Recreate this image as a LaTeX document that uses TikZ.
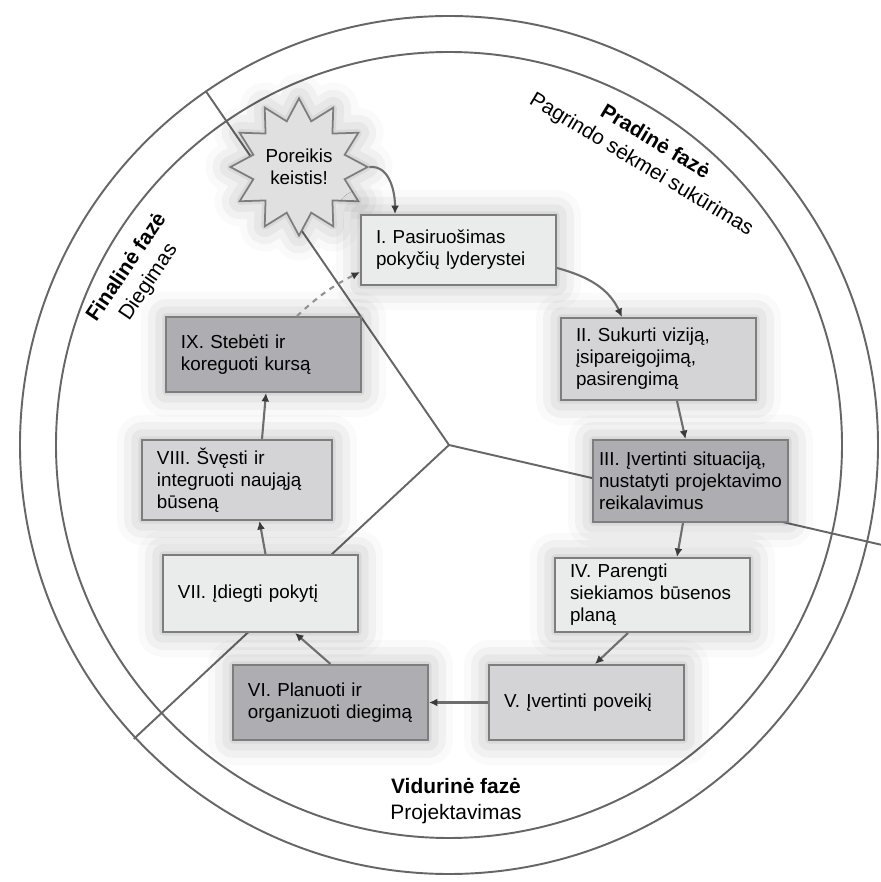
\documentclass[tikz,border=0pt]{standalone}
\usepackage{fontspec}
\setmainfont{Liberation Sans}
\usetikzlibrary{arrows.meta,shapes.geometric,shadows.blur}
\definecolor{ringgray}{HTML}{666666}
\definecolor{boxline}{HTML}{7D7D7D}
\definecolor{stagelight}{HTML}{EAEBEB}
\definecolor{stagemid}{HTML}{D4D4D7}
\definecolor{stagedark}{HTML}{ADADB2}
\definecolor{flowgray}{HTML}{6E6E6E}
\definecolor{tipgray}{HTML}{3A3A3A}

\begin{document}
\begin{tikzpicture}[>=Latex,
 stage/.style={draw=boxline,fill=#1,line width=1.1pt,text width=3.3cm,inner xsep=0.3cm,inner ysep=2pt,minimum height=1.5cm,align=left,font=\fontsize{10.7}{12.6}\selectfont,blur shadow={shadow xshift=0pt,shadow yshift=0pt,shadow blur radius=0.5cm,shadow opacity=30}},
 phase/.style={align=center,font=\fontsize{11.9}{15}\selectfont},
 a/.style={-{Latex[length=1.7mm,width=1.6mm,color=tipgray]},line width=1.2pt,flowgray},
 ring/.style={ringgray,line width=1.1pt}]
\useasboundingbox (-8.98,8.90) rectangle (8.64,-8.74);

\coordinate (hub) at (0,0);
\draw[ring] (hub) circle (8.58);
\draw[ring] (hub) circle (7.86);
\draw[ring] (hub) -- (124.5:8.58);
\draw[ring] (hub) -- (-13:9.2);
\draw[ring] (hub) -- (223:8.62);

\node[phase,rotate=-31] (early) at (3.98,5.82) {\textbf{Pradinė fazė}\\Pagrindo sėkmei sukūrimas};
\node[phase,rotate=56] (final) at (-6.22,3.40) {\textbf{Finalinė fazė}\\Diegimas};
\node[phase] (middle) at (0.14,-7.12) {\textbf{Vidurinė fazė}\\Projektavimas};

\node[star,star points=12,star point ratio=1.45,minimum size=2.25cm,inner sep=0pt,draw=boxline,fill=black!12,line width=1pt,align=center,font=\fontsize{10.7}{12.6}\selectfont,blur shadow={shadow xshift=0pt,shadow yshift=0pt,shadow blur radius=0.5cm,shadow opacity=30}] (need) at (-3.00,5.56) {Poreikis\\keistis!};

\node[stage=stagelight,minimum height=1.40cm] (prep) at (0.19,3.90) {I. Pasiruošimas\\pokyčių lyderystei};
\node[stage=stagemid,minimum height=1.64cm] (vision) at (4.19,1.72) {II. Sukurti viziją,\\įsipareigojimą,\\pasirengimą};
\node[stage=stagedark,minimum height=1.64cm,text width=3.66cm,inner xsep=0.12cm] (assess) at (4.83,-0.72) {III. Įvertinti situaciją,\\nustatyti~projektavimo\\reikalavimus};
\node[stage=stagelight,minimum height=1.48cm] (plan) at (4.07,-3.00) {IV. Parengti\\siekiamos~būsenos\\planą};
\node[stage=stagemid] (impact) at (2.75,-5.15) {V. Įvertinti poveikį};
\node[stage=stagedark] (organise) at (-2.37,-5.15) {VI. Planuoti ir\\organizuoti~diegimą};
\node[stage=stagelight,minimum height=1.54cm] (implement) at (-3.77,-2.97) {VII. Įdiegti pokytį};
\node[stage=stagemid,minimum height=1.60cm,text width=3.2cm] (celebrate) at (-4.24,-0.70) {VIII. Švęsti ir\\integruoti naująją\\būseną};
\node[stage=stagedark] (monitor) at (-3.71,1.81) {IX. Stebėti ir\\koreguoti kursą};

\draw[a] (need.east) to[out=5,in=90] ([xshift=0.7cm]prep.north west);
\draw[a] ([yshift=-0.36cm]prep.east) to[out=-15,in=115] ([xshift=1.24cm]vision.north west);
\draw[a] ([xshift=0.37cm]vision.south) -- ([xshift=-0.1cm]assess.north);
\draw[a] ([xshift=-0.15cm]assess.south) -- ([xshift=0.49cm]plan.north);
\draw[a] ([xshift=-0.49cm]plan.south) -- ([xshift=0.17cm]impact.north);
\draw[a] (impact.west) -- (organise.east);
\draw[a] (organise.north) -- ([xshift=0.69cm]implement.south);
\draw[a] ([xshift=0.1cm]implement.north) -- ([xshift=0.45cm]celebrate.south);
\draw[a] ([xshift=0.5cm]celebrate.north) -- ([xshift=0.05cm]monitor.south);
\draw[a,dashed,flowgray!75] ([xshift=0.67cm]monitor.north) to[bend left=8] ([yshift=-0.44cm]prep.west);
\end{tikzpicture}
\end{document}
